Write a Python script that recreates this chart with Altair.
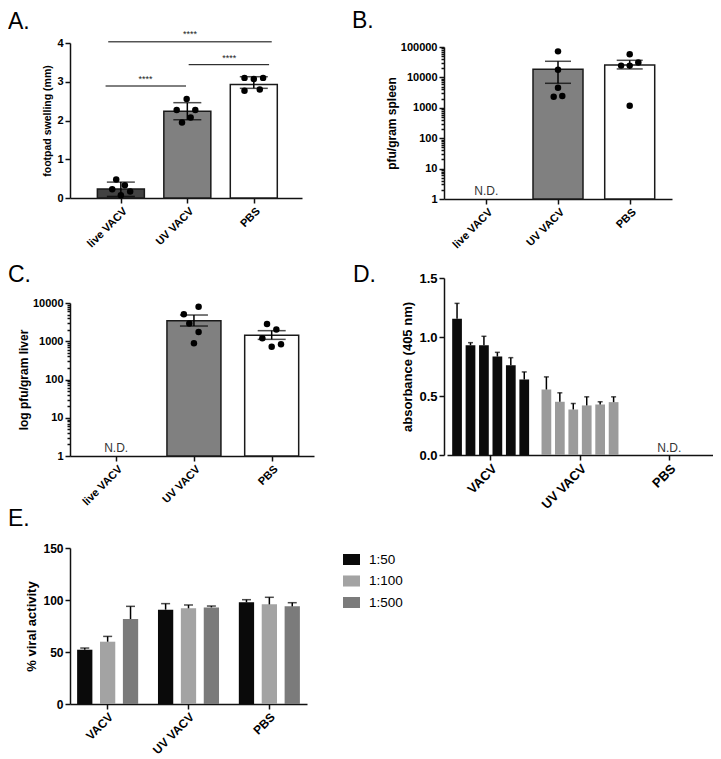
import json
import altair as alt
import pandas as pd

FONT = "Liberation Sans"

# ---------------- Panel A: footpad swelling ----------------
a_groups = ["live VACV", "UV VACV", "PBS"]
a_bar_group = [0, 1, 2]
a_mean = [0.23, 2.24, 2.93]
a_err_low = [0.04, 2.02, 2.83]
a_err_high = [0.41, 2.46, 3.13]
a_pt_group = [0, 0, 0, 0, 0, 1, 1, 1, 1, 1, 2, 2, 2, 2, 2]
a_pt_value = [0.48, 0.225, 0.33, 0.17, 0.07, 2.555, 2.27, 2.27, 2.08, 1.95, 3.10, 3.10, 3.07, 2.77, 2.80]
a_pt_jitter = [-0.07, -0.13, 0.06, 0.14, 0.0, -0.01, -0.16, 0.12, 0.05, -0.08, -0.14, 0.14, 0.0, -0.14, 0.09]
a_sig_from = [-0.23, 1.02, -0.19]
a_sig_to = [0.98, 2.23, 2.27]
a_sig_y = [2.89, 3.44, 4.03]
a_star_x = [0.37, 1.63, 1.04]
a_star_y = [3.08, 3.62, 4.22]
a_sig_label = ["****", "****", "****"]

# ---------------- Panel B: spleen ----------------
b_groups = ["live VACV", "UV VACV", "PBS"]
b_bar_group = [1, 2]
b_mean = [18500, 25700]
b_err_low = [6400, 19000]
b_err_high = [33900, 36500]
b_pt_group = [1, 1, 1, 1, 1, 2, 2, 2, 2, 2]
b_pt_value = [71800, 18000, 4600, 2290, 2460, 57500, 24400, 24400, 30700, 1160]
b_pt_jitter = [0.0, 0.0, 0.0, -0.06, 0.06, 0.0, -0.12, 0.0, 0.12, 0.0]
b_nd_group = [0]

# ---------------- Panel C: liver ----------------
c_groups = ["live VACV", "UV VACV", "PBS"]
c_bar_group = [1, 2]
c_mean = [3440, 1430]
c_err_low = [2500, 1120]
c_err_high = [4850, 1890]
c_pt_group = [1, 1, 1, 1, 1, 2, 2, 2, 2, 2]
c_pt_value = [7980, 5050, 2930, 1750, 890, 2830, 2040, 1190, 720, 830]
c_pt_jitter = [0.06, -0.13, -0.06, 0.06, 0.0, -0.06, 0.06, -0.12, 0.0, 0.12]
c_nd_group = [0]

# ---------------- Panel D: absorbance ----------------
d_groups = ["VACV", "UV VACV", "PBS"]
d_reps = [1, 2, 3, 4, 5, 6]
d_vacv_mean = [1.155, 0.93, 0.93, 0.834, 0.76, 0.64]
d_vacv_err = [1.285, 0.952, 1.006, 0.870, 0.825, 0.704]
d_uv_mean = [0.555, 0.451, 0.386, 0.42, 0.428, 0.448]
d_uv_err = [0.662, 0.527, 0.437, 0.493, 0.451, 0.493]
d_nd_group = ["PBS"]

# ---------------- Panel E: % viral activity ----------------
e_groups = ["VACV", "UV VACV", "PBS"]
e_dilutions = ["1:50", "1:100", "1:500"]
e_vacv_mean = [52.2, 59.9, 81.7]
e_vacv_err = [53.8, 65.0, 93.9]
e_uv_mean = [90.7, 92.0, 92.9]
e_uv_err = [96.5, 95.2, 94.2]
e_pbs_mean = [97.8, 95.8, 93.9]
e_pbs_err = [100.3, 102.6, 97.4]

LOG_TEST = "abs(log(datum.value)/LN10 - round(log(datum.value)/LN10)) < 1e-6"


def log_ticks(max_exp):
    major = [10 ** k for k in range(max_exp + 1)]
    minor = [m * 10 ** k for k in range(max_exp) for m in range(2, 10)]
    return sorted(major + minor)


def panel_title(text, dx, offset):
    return alt.TitleParams(text=text, anchor="start", frame="group", fontSize=23,
                           font=FONT, fontWeight="normal", color="black",
                           dx=dx, offset=offset, baseline="alphabetic")


def dot_bar_layers(groups, bar_group, means, lows, highs, fills, pt_group, pt_value,
                   pt_jitter, x_domain, y_scale, y_axis, y_base, bar_w, cap_w,
                   label_size, nd_group=None):
    bars = pd.DataFrame({"pos": bar_group, "group": [groups[i] for i in bar_group],
                         "mean": means, "low": lows, "high": highs})
    caps = pd.DataFrame({"pos": bar_group + bar_group, "y": lows + highs})
    pts = pd.DataFrame({"x": [g + j for g, j in zip(pt_group, pt_jitter)], "y": pt_value})
    xs = alt.Scale(domain=x_domain, nice=False, zero=False)
    x_axis = alt.Axis(values=[0, 1, 2], labelExpr=f"{json.dumps(groups)}[datum.value]",
                      labelAngle=315, labelAlign="right", labelBaseline="top",
                      labelFontSize=label_size, title=None, labelPadding=2)
    bar_layer = alt.Chart(bars).mark_bar(width=bar_w, stroke="#1a1a1a", strokeWidth=1.5).encode(
        x=alt.X("pos:Q", scale=xs, axis=x_axis),
        y=alt.Y("mean:Q", scale=y_scale, axis=y_axis),
        y2=alt.datum(y_base),
        fill=alt.Fill("group:N", scale=alt.Scale(domain=groups, range=fills), legend=None),
    )
    err_layer = alt.Chart(bars).mark_rule(color="black", strokeWidth=1.5).encode(
        x=alt.X("pos:Q", axis=x_axis), y=alt.Y("low:Q", axis=y_axis), y2="high:Q")
    cap_layer = alt.Chart(caps).mark_tick(orient="horizontal", size=cap_w, thickness=1.5,
                                          color="black").encode(
        x=alt.X("pos:Q", axis=x_axis), y=alt.Y("y:Q", axis=y_axis))
    pt_layer = alt.Chart(pts).mark_circle(size=42, color="black", opacity=1).encode(
        x=alt.X("x:Q", axis=x_axis), y=alt.Y("y:Q", axis=y_axis))
    layers = [bar_layer, err_layer, cap_layer, pt_layer]
    if nd_group:
        nd = pd.DataFrame({"pos": nd_group, "t": ["N.D."] * len(nd_group)})
        layers.append(alt.Chart(nd).mark_text(font=FONT, fontSize=12, color="#333",
                                              baseline="alphabetic", dy=-4).encode(
            x=alt.X("pos:Q", axis=x_axis), y=alt.datum(y_base), text="t:N"))
    return layers, x_axis


# ----- A -----
a_y_axis = alt.Axis(values=[0, 1, 2, 3, 4], title="footpad swelling  (mm)", titleFontSize=10.5,
                    labelFontSize=11)
a_layers, a_x_axis = dot_bar_layers(
    a_groups, a_bar_group, a_mean, a_err_low, a_err_high,
    ["#424242", "#808080", "#ffffff"], a_pt_group, a_pt_value, a_pt_jitter,
    [-0.69, 2.65], alt.Scale(domain=[0, 4], nice=False), a_y_axis, 0, 47, 28, 11)
sig = pd.DataFrame({"x1": a_sig_from, "x2": a_sig_to, "y": a_sig_y})
stars = pd.DataFrame({"x": a_star_x, "y": a_star_y, "t": a_sig_label})
a_layers.append(alt.Chart(sig).mark_rule(color="black", strokeWidth=1).encode(
    x=alt.X("x1:Q", axis=a_x_axis), x2="x2:Q", y=alt.Y("y:Q", axis=a_y_axis)))
a_layers.append(alt.Chart(stars).mark_text(font=FONT, fontSize=9, color="#222").encode(
    x=alt.X("x:Q", axis=a_x_axis), y=alt.Y("y:Q", axis=a_y_axis), text="t:N"))
A = alt.layer(*a_layers).properties(width=232, height=155, title=panel_title("A.", -62, -22))

# ----- B -----
b_y_axis = alt.Axis(values=log_ticks(5), title="pfu/gram spleen", titleFontSize=12, labelFontSize=11,
                    format="d", labelExpr=f"{LOG_TEST} ? datum.label : ''", labelOverlap=False,
                    tickSize={"condition": {"test": LOG_TEST, "value": 5}, "value": 3}, titlePadding=2)
b_layers, _ = dot_bar_layers(
    b_groups, b_bar_group, b_mean, b_err_low, b_err_high,
    ["#424242", "#808080", "#ffffff"], b_pt_group, b_pt_value, b_pt_jitter,
    [-0.52, 2.52], alt.Scale(type="log", domain=[1, 100000], nice=False, range=[156, 4]), b_y_axis,
    1, 50, 26, 11, nd_group=b_nd_group)
B = alt.layer(*b_layers).properties(width=228, height=156, title=panel_title("B.", -92, -10))

# ----- C -----
c_y_axis = alt.Axis(values=log_ticks(4), title="log pfu/gram liver", titleFontSize=12, labelFontSize=11,
                    format="d", labelExpr=f"{LOG_TEST} ? datum.label : ''", labelOverlap=False,
                    tickSize={"condition": {"test": LOG_TEST, "value": 5}, "value": 3}, titlePadding=2)
c_layers, _ = dot_bar_layers(
    c_groups, c_bar_group, c_mean, c_err_low, c_err_high,
    ["#424242", "#808080", "#ffffff"], c_pt_group, c_pt_value, c_pt_jitter,
    [-0.53, 2.48], alt.Scale(type="log", domain=[1, 10000], nice=False, range=[178, 25]), c_y_axis,
    1, 54, 28, 11, nd_group=c_nd_group)
C = alt.layer(*c_layers).properties(width=244, height=178, title=panel_title("C.", -62, -27))

# ----- D -----
d_df = pd.DataFrame({
    "group": ["VACV"] * len(d_reps) + ["UV VACV"] * len(d_reps),
    "rep": d_reps + d_reps,
    "mean": d_vacv_mean + d_uv_mean,
    "err": d_vacv_err + d_uv_err,
})
d_x_axis = alt.Axis(labelAngle=315, labelAlign="right", labelBaseline="top",
                    labelFontSize=13, title=None, labelPadding=2)
d_y_axis = alt.Axis(values=[0, 0.5, 1, 1.5], format=".1f", title="absorbance (405 nm)",
                    titleFontSize=13, labelFontSize=13)
d_xs = alt.Scale(domain=d_groups, paddingInner=0.135, paddingOuter=0.056, range=[3, 269])
d_xo = alt.XOffset("rep:O", scale=alt.Scale(paddingInner=0.276, paddingOuter=0.013))
d_bars = alt.Chart(d_df).mark_bar().encode(
    x=alt.X("group:N", scale=d_xs, axis=d_x_axis), xOffset=d_xo,
    y=alt.Y("mean:Q", scale=alt.Scale(domain=[0, 1.5], nice=False), axis=d_y_axis),
    fill=alt.Fill("group:N", scale=alt.Scale(domain=["VACV", "UV VACV"], range=["#0b0b0b", "#9b9b9b"]),
                  legend=None),
)
d_err = alt.Chart(d_df).mark_rule(color="black", strokeWidth=1.5).encode(
    x=alt.X("group:N", axis=d_x_axis), xOffset=d_xo, y=alt.Y("mean:Q", axis=d_y_axis), y2="err:Q")
d_cap = alt.Chart(d_df).mark_tick(orient="horizontal", size=5, thickness=1.5, color="black").encode(
    x=alt.X("group:N", axis=d_x_axis), xOffset=d_xo, y=alt.Y("err:Q", axis=d_y_axis))
d_nd = alt.Chart(pd.DataFrame({"group": d_nd_group, "t": ["N.D."]})).mark_text(
    font=FONT, fontSize=12, color="#333", baseline="alphabetic", dy=-3).encode(
    x=alt.X("group:N", axis=d_x_axis), y=alt.datum(0), text="t:N")
D = alt.layer(d_bars, d_err, d_cap, d_nd).properties(
    width=269, height=177, title=panel_title("D.", -91, -33))

# ----- E -----
e_df = pd.DataFrame({
    "group": [g for g in e_groups for _ in e_dilutions],
    "dil": e_dilutions * len(e_groups),
    "mean": e_vacv_mean + e_uv_mean + e_pbs_mean,
    "err": e_vacv_err + e_uv_err + e_pbs_err,
})
e_x_axis = alt.Axis(labelAngle=315, labelAlign="right", labelBaseline="top",
                    labelFontSize=12, title=None, labelPadding=2)
e_y_axis = alt.Axis(values=[0, 50, 100, 150], title="%  viral activity",
                    titleFontSize=13, labelFontSize=12)
e_xs = alt.Scale(domain=e_groups, paddingInner=0.245, paddingOuter=0.088)
e_xo = alt.XOffset("dil:N", scale=alt.Scale(domain=e_dilutions, paddingInner=0.333, paddingOuter=0))
e_bars = alt.Chart(e_df).mark_bar().encode(
    x=alt.X("group:N", scale=e_xs, axis=e_x_axis), xOffset=e_xo,
    y=alt.Y("mean:Q", scale=alt.Scale(domain=[0, 150], nice=False, range=[169, 13]), axis=e_y_axis),
    fill=alt.Fill("dil:N", scale=alt.Scale(domain=e_dilutions, range=["#0a0a0a", "#a3a3a3", "#7b7b7b"]),
                  legend=alt.Legend(title=None, orient="right", offset=20,
                                    symbolType="M-1,-0.65H1V0.65H-1Z", symbolSize=289,
                                    symbolStrokeWidth=0, symbolOpacity=1,
                                    labelFont=FONT, labelFontSize=13.5, labelColor="black",
                                    labelFontWeight="normal", rowPadding=6.5, padding=16,
                                    labelOffset=9)),
)
e_err = alt.Chart(e_df).mark_rule(color="black", strokeWidth=1.5).encode(
    x=alt.X("group:N", axis=e_x_axis), xOffset=e_xo, y=alt.Y("mean:Q", axis=e_y_axis), y2="err:Q")
e_cap = alt.Chart(e_df).mark_tick(orient="horizontal", size=9, thickness=1.5, color="black").encode(
    x=alt.X("group:N", axis=e_x_axis), xOffset=e_xo, y=alt.Y("err:Q", axis=e_y_axis))
E = alt.layer(e_bars, e_err, e_cap).properties(
    width=237, height=169, title=panel_title("E.", -62, -14))

chart = alt.concat(
    A, B, C, D, E, columns=2, spacing={"row": 79, "column": 130},
    bounds="flush", align="each"
).resolve_scale(fill="independent", color="independent", xOffset="independent").properties(
    padding={"top": 2, "left": 0, "right": 0, "bottom": 0}
).configure_view(stroke=None).configure_axis(
    domainColor="#111", domainWidth=1.5, tickColor="#111", tickWidth=1.5, tickSize=5,
    labelFont=FONT, labelFontWeight="bold", labelColor="black",
    titleFont=FONT, titleFontWeight="bold", titleColor="black", grid=False
)

chart.save("out.html", embed_options={"renderer": "svg", "actions": False})
